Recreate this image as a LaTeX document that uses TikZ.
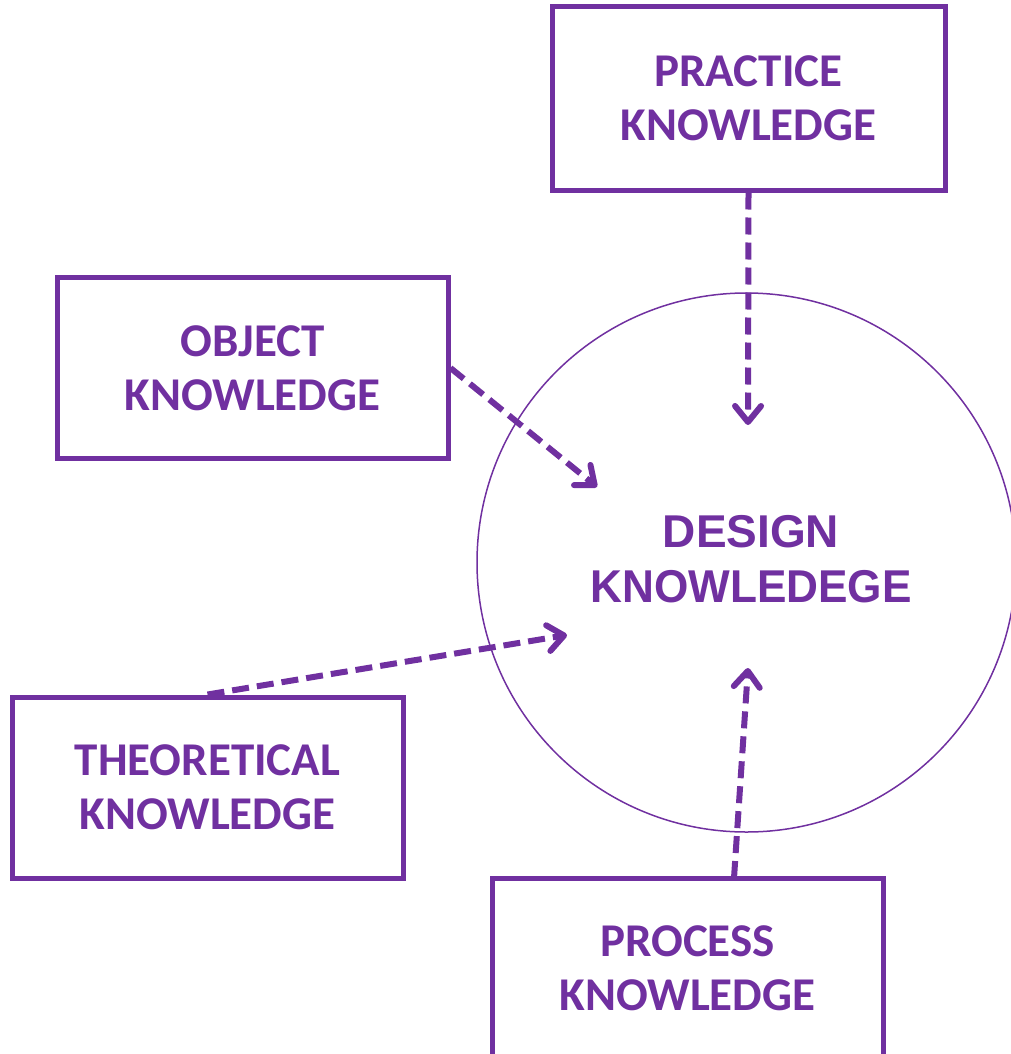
\documentclass[tikz,border=0pt]{standalone}
\usepackage{fontspec}
\setmainfont{Carlito}
\newfontfamily\arialfont{Liberation Sans}
\usetikzlibrary{arrows.meta,calc}
\definecolor{kpurple}{HTML}{7030A0}
\begin{document}
\begin{tikzpicture}[x=1pt,y=-1pt,
  kbox/.style={draw=kpurple, line width=5pt, rectangle, minimum width=391pt, minimum height=181pt,
    align=center, text=kpurple, font=\fontsize{47}{54}\selectfont\bfseries, inner sep=0pt},
  karrow/.style={draw=kpurple, line width=6pt, dash pattern=on 17pt off 8pt,
    -{Straight Barb[length=16pt,width=26pt,line width=6pt,round]}},
  kcircle/.style={draw=kpurple, line width=1.5pt, circle, minimum size=539pt, inner sep=0pt}
]
\useasboundingbox (0,0) rectangle (1011,1054);
\clip (0,0) rectangle (1011,1054);
\node[kcircle] (circ) at (746.5,562.5) {};
\node[text=kpurple, align=center, inner sep=0pt, font=\arialfont\fontsize{46}{55}\selectfont\bfseries] (dk) at (751,559)
  {DESIGN\\\scalebox{0.96}[1]{KNOWLEDEGE}};
\node[kbox, minimum width=393pt, minimum height=183pt] (pr) at (748.5,98.5) {PRACTICE\\KNOWLEDGE};
\node[kbox] (ob) at (252.5,368) {OBJECT\\KNOWLEDGE};
\node[kbox] (th) at (207.5,787.5) {THEORETICAL\\KNOWLEDGE};
\node[kbox] (pc) at (687.5,968.5) {PROCESS\\KNOWLEDGE};
\coordinate (tpr) at (748,425);
\coordinate (tob) at (597,487);
\coordinate (tth) at (567,635);
\coordinate (tpc) at (748,668);
\coordinate (spc) at (734,878);
\draw[karrow] (pr.south) -- (tpr);
\draw[karrow] (ob.east) -- (tob);
\draw[karrow] (th.north) -- (tth);
\draw[karrow] (spc) -- (tpc);
\end{tikzpicture}
\end{document}
